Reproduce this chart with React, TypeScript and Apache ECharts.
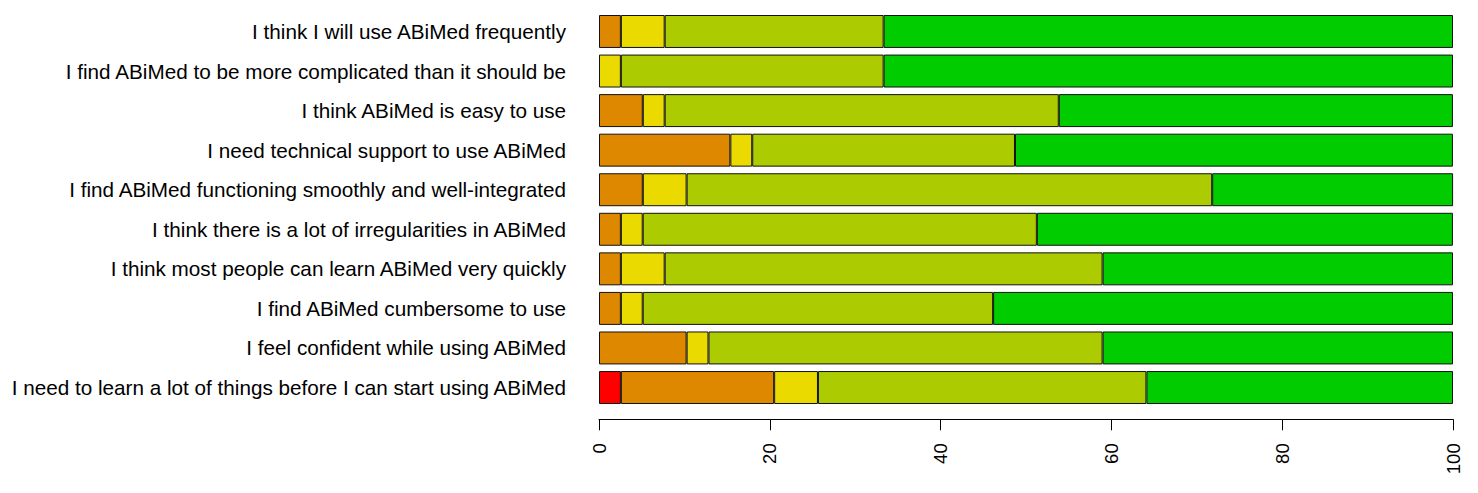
import React, { useEffect, useRef } from "react";
import * as echarts from "echarts";

const categories = [
  "I think I will use ABiMed frequently",
  "I find ABiMed to be more complicated than it should be",
  "I think ABiMed is easy to use",
  "I need technical support to use ABiMed",
  "I find ABiMed functioning smoothly and well-integrated",
  "I think there is a lot of irregularities in ABiMed",
  "I think most people can learn ABiMed very quickly",
  "I find ABiMed cumbersome to use",
  "I feel confident while using ABiMed",
  "I need to learn a lot of things before I can start using ABiMed",
];

// percentages, in the same order as categories (top to bottom)
const stronglyDisagree = [0, 0, 0, 0, 0, 0, 0, 0, 0, 2.56];
const disagree = [2.56, 0, 5.13, 15.38, 5.13, 2.56, 2.56, 2.56, 10.26, 17.95];
const neutral = [5.13, 2.56, 2.56, 2.56, 5.13, 2.56, 5.13, 2.56, 2.56, 5.13];
const agree = [25.64, 30.77, 46.15, 30.77, 61.54, 46.15, 51.28, 41.03, 46.15, 38.46];
const stronglyAgree = [66.67, 66.67, 46.15, 51.28, 28.21, 48.72, 41.03, 53.85, 41.03, 35.9];

const xTicks = { min: 0, max: 100, interval: 20 };

const seriesDefs = [
  { name: "Strongly disagree", data: stronglyDisagree, color: "#FF0000" },
  { name: "Disagree", data: disagree, color: "#DE8800" },
  { name: "Neutral", data: neutral, color: "#EADA00" },
  { name: "Agree", data: agree, color: "#ACCB00" },
  { name: "Strongly agree", data: stronglyAgree, color: "#00CC00" },
];

export default function App() {
  const ref = useRef<HTMLDivElement>(null);
  useEffect(() => {
    if (!ref.current) return;
    const chart = echarts.init(ref.current, null, { renderer: "svg" });
    const font = "'Liberation Sans', Arial, Helvetica, sans-serif";
    chart.setOption({
      animation: false,
      backgroundColor: "#ffffff",
      grid: { left: 599, right: 25, top: 11.7, height: 395.6, containLabel: false },
      xAxis: {
        type: "value",
        min: xTicks.min,
        max: xTicks.max,
        interval: xTicks.interval,
        offset: 12,
        splitLine: { show: false },
        axisLine: { show: true, lineStyle: { color: "#000", width: 1 } },
        axisTick: { show: true, length: 11, lineStyle: { color: "#000", width: 1 } },
        axisLabel: {
          rotate: 90,
          margin: 24,
          fontSize: 18.5,
          color: "#000",
          fontFamily: font,
        },
      },
      yAxis: {
        type: "category",
        data: categories,
        inverse: true,
        axisLine: { show: false },
        axisTick: { show: false },
        splitLine: { show: false },
        axisLabel: {
          margin: 33,
          fontSize: 20.7,
          color: "#000",
          fontFamily: font,
        },
      },
      series: seriesDefs.map((s) => ({
        name: s.name,
        type: "bar",
        stack: "total",
        barCategoryGap: "16.7%",
        data: s.data.map((v) => (v === 0 ? null : v)),
        itemStyle: { color: s.color, borderColor: "#111", borderWidth: 1 },
        emphasis: { disabled: true },
      })),
    });
    return () => chart.dispose();
  }, []);
  return (
    <div
      ref={ref}
      style={{ position: "fixed", left: 0, top: 0, width: 1478, height: 493, background: "#fff" }}
    />
  );
}
